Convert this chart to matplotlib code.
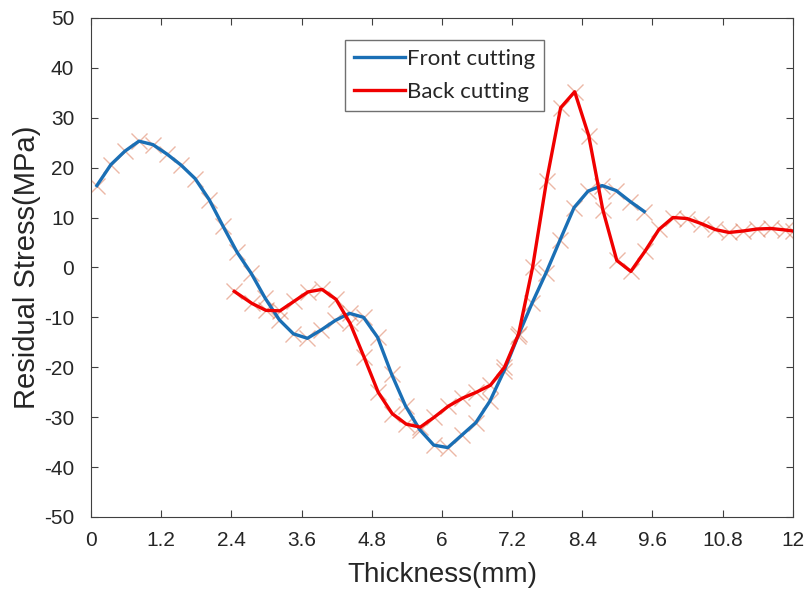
import matplotlib
matplotlib.use("Agg")
import matplotlib.pyplot as plt

# Front cutting (blue)
front_x = [0.10, 0.34, 0.58, 0.82, 1.06, 1.30, 1.54, 1.78, 2.02, 2.26,
           2.50, 2.74, 2.98, 3.22, 3.46, 3.70, 3.94, 4.18, 4.42, 4.66,
           4.90, 5.14, 5.38, 5.62, 5.86, 6.10, 6.34, 6.58, 6.82, 7.06,
           7.30, 7.54, 7.78, 8.02, 8.26, 8.50, 8.74, 8.98, 9.22, 9.46]
front_y = [16.4, 20.6, 23.3, 25.3, 24.6, 22.7, 20.5, 17.8, 13.6, 8.2,
           3.0, -1.2, -6.2, -10.5, -13.3, -14.2, -12.5, -10.6, -9.2, -10.0,
           -14.0, -21.4, -27.8, -32.5, -35.6, -36.1, -33.6, -31.1, -26.8, -20.8,
           -13.8, -7.2, -1.1, 5.5, 12.0, 15.3, 16.4, 15.4, 13.2, 11.2]

# Back cutting (red)
back_x = [2.45, 2.75, 2.99, 3.23, 3.47, 3.71, 3.95, 4.19, 4.43, 4.67,
          4.91, 5.15, 5.39, 5.63, 5.87, 6.11, 6.35, 6.59, 6.83, 7.07,
          7.31, 7.55, 7.79, 8.03, 8.27, 8.51, 8.75, 8.99, 9.23, 9.47,
          9.71, 9.95, 10.19, 10.43, 10.67, 10.91, 11.15, 11.39, 11.63, 11.87,
          12.0]
back_y = [-4.8, -7.2, -8.6, -8.7, -6.8, -4.9, -4.4, -6.4, -11.2, -18.0,
          -25.0, -29.3, -31.4, -32.0, -30.0, -27.8, -26.2, -25.0, -23.6, -20.0,
          -13.4, 0.0, 17.4, 32.0, 35.2, 26.4, 11.6, 1.4, -0.8, 3.2,
          7.6, 10.0, 9.8, 8.8, 7.6, 7.0, 7.3, 7.7, 7.8, 7.5,
          7.3]

x_ticks = [0, 1.2, 2.4, 3.6, 4.8, 6, 7.2, 8.4, 9.6, 10.8, 12]
x_tick_labels = ["0", "1.2", "2.4", "3.6", "4.8", "6", "7.2", "8.4", "9.6", "10.8", "12"]
y_ticks = [-50, -40, -30, -20, -10, 0, 10, 20, 30, 40, 50]

BLUE = "#1a6fb5"
RED = "#f00000"
MARK = "#d5603a"
AXC = "#404040"

plt.rcParams["font.family"] = ["Liberation Sans", "DejaVu Sans"]
plt.rcParams["axes.unicode_minus"] = False

fig = plt.figure(figsize=(8.09, 5.96), dpi=100)
ax = fig.add_axes([0.1125, 0.1326, 0.8675, 0.8374])

# markers behind the lines
ax.plot(front_x, front_y, linestyle="none", marker="x", markersize=11,
        markeredgewidth=1.0, color=MARK, alpha=0.45, zorder=1)
ax.plot(back_x, back_y, linestyle="none", marker="x", markersize=11,
        markeredgewidth=1.0, color=MARK, alpha=0.45, zorder=1)

ax.plot(front_x, front_y, color=BLUE, linewidth=2.4, label="Front cutting", zorder=2)
ax.plot(back_x, back_y, color=RED, linewidth=2.4, label="Back cutting", zorder=3)

ax.set_xlim(0, 12)
ax.set_ylim(-50, 50)
ax.set_xticks(x_ticks)
ax.set_xticklabels(x_tick_labels)
ax.set_yticks(y_ticks)
ax.tick_params(direction="in", length=5, width=0.8, colors=AXC,
               top=True, right=True, labelsize=15, labelcolor="#262626")
ax.tick_params(axis="x", pad=10)
ax.tick_params(axis="y", pad=12)
for s in ax.spines.values():
    s.set_color(AXC)
    s.set_linewidth(0.8)

ax.set_xlabel("Thickness(mm)", fontsize=20, color="#262626", labelpad=9)
ax.set_ylabel("Residual Stress(MPa)", fontsize=21, color="#262626", labelpad=2)

leg = ax.legend(loc="upper left", bbox_to_anchor=(0.362, 0.956), frameon=True,
                fancybox=False, edgecolor="#707070", framealpha=1,
                prop={"family": ["Lato", "DejaVu Sans"], "size": 16},
                handlelength=2.3, handletextpad=0.1, borderpad=0.4,
                labelspacing=0.6, borderaxespad=0)
leg.get_frame().set_linewidth(1.0)
for t in leg.get_texts():
    t.set_color("#262626")

fig.savefig("out.png", dpi=100)
